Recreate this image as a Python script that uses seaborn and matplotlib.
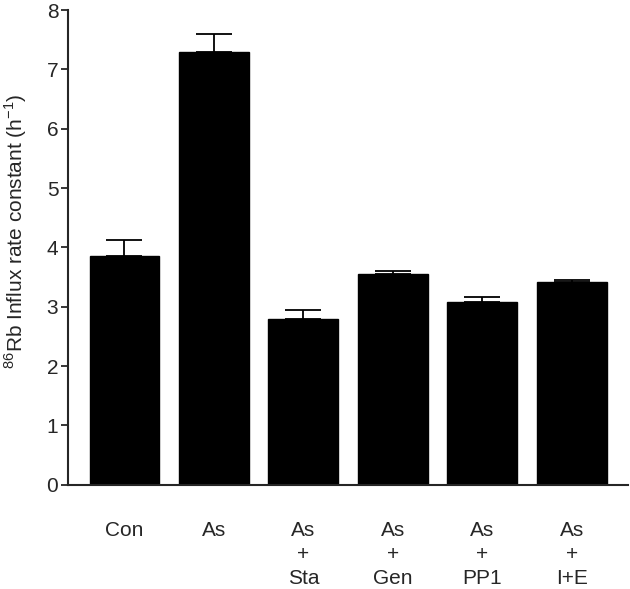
import matplotlib
matplotlib.use("Agg")
import matplotlib.pyplot as plt
import seaborn as sns
import pandas as pd

# podatki odčitani s slike
skupine = ["Con", "As", "As\n+\nSta", "As\n+\nGen", "As\n+\nPP1", "As\n+\nI+E"]
vrednosti = [3.85, 7.30, 2.80, 3.55, 3.08, 3.42]
napake = [0.28, 0.30, 0.14, 0.06, 0.09, 0.03]

df = pd.DataFrame({"skupina": skupine, "vrednost": vrednosti})

sns.set_style("ticks")
plt.rcParams["font.family"] = ["Liberation Sans", "DejaVu Sans"]
plt.rcParams["mathtext.fontset"] = "custom"
plt.rcParams["mathtext.rm"] = "Liberation Sans"

fig = plt.figure(figsize=(6.3, 5.89), dpi=100)
ax = fig.add_axes([0.108, 0.177, 0.889, 0.806])

sns.barplot(data=df, x="skupina", y="vrednost", color="black", width=0.78,
            saturation=1, edgecolor="black", ax=ax)
ax.errorbar(range(len(skupine)), vrednosti, yerr=[[0] * len(napake), napake],
            fmt="none", ecolor="black", elinewidth=1.3, capsize=13, capthick=1.3)

ax.set_ylim(0, 8)
ax.set_xlim(-0.63, 5.63)
ax.set_yticks(range(0, 9))
ax.tick_params(axis="y", labelsize=15, length=5, width=1.3, direction="out", pad=2)
ax.tick_params(axis="x", labelsize=15, length=0, pad=26)
for lbl in ax.get_xticklabels():
    lbl.set_linespacing(1.35)
ax.set_xlabel("")
ax.set_ylabel(r"$^{86}$Rb Influx rate constant (h$^{-1}$)", fontsize=15)
ax.yaxis.set_label_coords(-0.069, 0.533)
for s in ["left", "bottom"]:
    ax.spines[s].set_linewidth(1.5)
sns.despine(ax=ax)

fig.savefig("out.png", dpi=100)
